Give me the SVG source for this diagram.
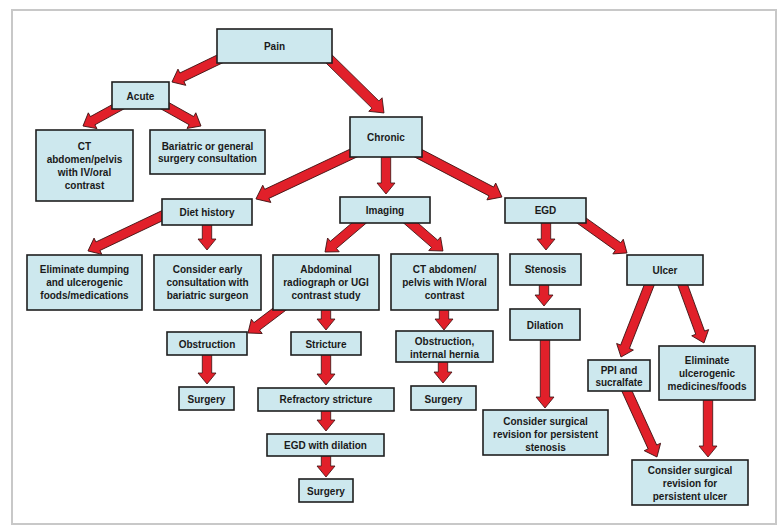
<svg xmlns="http://www.w3.org/2000/svg" width="783" height="531" viewBox="0 0 783 531">
<style>
.bx{fill:#cde8ee;stroke:#1f1f1f;stroke-width:1.6}
.ar{fill:#e1202a;stroke:#3a1010;stroke-width:0.8;stroke-linejoin:miter}
text{font-family:"Liberation Sans",Arial,sans-serif;font-weight:bold;font-size:10px;fill:#1a1a1a;text-anchor:middle}
</style>
<rect x="0" y="0" width="783" height="531" fill="#ffffff"/>
<rect x="12" y="10" width="764" height="514" fill="#ffffff" stroke="#c8c8c8" stroke-width="2"/>
<g id="connectors">
<polygon class="ar" transform="translate(228 55) rotate(154.26)" points="0,-4.7 51.2,-4.7 51.2,-9 62.2,0 51.2,9 51.2,4.7 0,4.7"/>
<polygon class="ar" transform="translate(325 55) rotate(44.5)" points="0,-5 70.7,-5 70.7,-9.5 82.7,0 70.7,9.5 70.7,5 0,5"/>
<polygon class="ar" transform="translate(125 103) rotate(151.3)" points="0,-4.7 36.9,-4.7 36.9,-9 47.9,0 36.9,9 36.9,4.7 0,4.7"/>
<polygon class="ar" transform="translate(160 103) rotate(29.3)" points="0,-4.7 36,-4.7 36,-9 47,0 36,9 36,4.7 0,4.7"/>
<polygon class="ar" transform="translate(360 150) rotate(154.8)" points="0,-5 103,-5 103,-9.5 115,0 103,9.5 103,5 0,5"/>
<polygon class="ar" transform="translate(386 155) rotate(90)" points="0,-4.7 28,-4.7 28,-9 39,0 28,9 28,4.7 0,4.7"/>
<polygon class="ar" transform="translate(412 150) rotate(27.6)" points="0,-5 89.5,-5 89.5,-9.5 101.5,0 89.5,9.5 89.5,5 0,5"/>
<polygon class="ar" transform="translate(170 212) rotate(154.6)" points="0,-4.7 79.8,-4.7 79.8,-9 90.8,0 79.8,9 79.8,4.7 0,4.7"/>
<polygon class="ar" transform="translate(207 223) rotate(90)" points="0,-4.7 16,-4.7 16,-9 27,0 16,9 16,4.7 0,4.7"/>
<polygon class="ar" transform="translate(365 218) rotate(139.6)" points="0,-4.7 41.5,-4.7 41.5,-9 52.5,0 41.5,9 41.5,4.7 0,4.7"/>
<polygon class="ar" transform="translate(405 218) rotate(41)" points="0,-4.7 39.3,-4.7 39.3,-9 50.3,0 39.3,9 39.3,4.7 0,4.7"/>
<polygon class="ar" transform="translate(546 221) rotate(90)" points="0,-4.7 18,-4.7 18,-9 29,0 18,9 18,4.7 0,4.7"/>
<polygon class="ar" transform="translate(578 218) rotate(35.5)" points="0,-4.7 49.2,-4.7 49.2,-9 60.2,0 49.2,9 49.2,4.7 0,4.7"/>
<polygon class="ar" transform="translate(544 283) rotate(90)" points="0,-4.7 12,-4.7 12,-9 23,0 12,9 12,4.7 0,4.7"/>
<polygon class="ar" transform="translate(285 305) rotate(142.9)" points="0,-4.7 35.4,-4.7 35.4,-9 46.4,0 35.4,9 35.4,4.7 0,4.7"/>
<polygon class="ar" transform="translate(326 308) rotate(90)" points="0,-4.7 11,-4.7 11,-9 22,0 11,9 11,4.7 0,4.7"/>
<polygon class="ar" transform="translate(444 308) rotate(90)" points="0,-4.7 11,-4.7 11,-9 22,0 11,9 11,4.7 0,4.7"/>
<polygon class="ar" transform="translate(650 283) rotate(111.4)" points="0,-4.7 68.5,-4.7 68.5,-9 79.5,0 68.5,9 68.5,4.7 0,4.7"/>
<polygon class="ar" transform="translate(682 283) rotate(69.9)" points="0,-4.7 52.9,-4.7 52.9,-9 63.9,0 52.9,9 52.9,4.7 0,4.7"/>
<polygon class="ar" transform="translate(207 353) rotate(90)" points="0,-4.7 20,-4.7 20,-9 31,0 20,9 20,4.7 0,4.7"/>
<polygon class="ar" transform="translate(326 353) rotate(90)" points="0,-4.7 21,-4.7 21,-9 32,0 21,9 21,4.7 0,4.7"/>
<polygon class="ar" transform="translate(443 360) rotate(90)" points="0,-4.7 12,-4.7 12,-9 23,0 12,9 12,4.7 0,4.7"/>
<polygon class="ar" transform="translate(326 409) rotate(90)" points="0,-4.7 11,-4.7 11,-9 22,0 11,9 11,4.7 0,4.7"/>
<polygon class="ar" transform="translate(326 454) rotate(90)" points="0,-4.7 12,-4.7 12,-9 23,0 12,9 12,4.7 0,4.7"/>
<polygon class="ar" transform="translate(545 338) rotate(90)" points="0,-4.7 59,-4.7 59,-9 70,0 59,9 59,4.7 0,4.7"/>
<polygon class="ar" transform="translate(626 389) rotate(65.5)" points="0,-4.7 63.7,-4.7 63.7,-9 74.7,0 63.7,9 63.7,4.7 0,4.7"/>
<polygon class="ar" transform="translate(708 398) rotate(90)" points="0,-4.7 48,-4.7 48,-9 59,0 48,9 48,4.7 0,4.7"/>
</g>
<g id="pain"><rect class="bx" x="217" y="29" width="115" height="34"/><text x="274.5" y="49.5">Pain</text></g>
<g id="acute"><rect class="bx" x="112" y="82" width="57" height="27"/><text x="140.5" y="99.5">Acute</text></g>
<g id="ct-acute"><rect class="bx" x="36" y="130" width="97" height="71"/><text x="84.5" y="149.5">CT</text><text x="84.5" y="162.5">abdomen/pelvis</text><text x="84.5" y="175.5">with IV/oral</text><text x="84.5" y="188.5">contrast</text></g>
<g id="bariatric"><rect class="bx" x="150" y="130" width="115" height="44"/><text x="207.5" y="149.5">Bariatric or general</text><text x="207.5" y="162">surgery consultation</text></g>
<g id="chronic"><rect class="bx" x="350" y="117" width="72" height="40"/><text x="386" y="141">Chronic</text></g>
<g id="diet"><rect class="bx" x="162" y="199" width="90" height="26"/><text x="207" y="215.7">Diet history</text></g>
<g id="imaging"><rect class="bx" x="340" y="197" width="90" height="26"/><text x="385" y="214">Imaging</text></g>
<g id="egd"><rect class="bx" x="505" y="198" width="81" height="25"/><text x="545.5" y="214">EGD</text></g>
<g id="eliminate-dumping"><rect class="bx" x="27" y="255" width="115" height="55"/><text x="84.5" y="273">Eliminate dumping</text><text x="84.5" y="286">and ulcerogenic</text><text x="84.5" y="299">foods/medications</text></g>
<g id="consider-early"><rect class="bx" x="154" y="255" width="107" height="55"/><text x="207.5" y="273">Consider early</text><text x="207.5" y="286">consultation with</text><text x="207.5" y="299">bariatric surgeon</text></g>
<g id="abdominal"><rect class="bx" x="273" y="255" width="106" height="55"/><text x="326" y="273">Abdominal</text><text x="326" y="286">radiograph or UGI</text><text x="326" y="299">contrast study</text></g>
<g id="ct-chronic"><rect class="bx" x="391" y="254" width="107" height="56"/><text x="444.5" y="273">CT abdomen/</text><text x="444.5" y="286">pelvis with IV/oral</text><text x="444.5" y="299">contrast</text></g>
<g id="stenosis"><rect class="bx" x="510" y="254" width="71" height="31"/><text x="545.5" y="273">Stenosis</text></g>
<g id="ulcer"><rect class="bx" x="627" y="255" width="76" height="30"/><text x="665" y="273.5">Ulcer</text></g>
<g id="dilation"><rect class="bx" x="510" y="309" width="70" height="31"/><text x="545" y="328.5">Dilation</text></g>
<g id="obstruction"><rect class="bx" x="167" y="332" width="80" height="23"/><text x="207" y="347.5">Obstruction</text></g>
<g id="stricture"><rect class="bx" x="291" y="332" width="70" height="23"/><text x="326" y="347.5">Stricture</text></g>
<g id="hernia"><rect class="bx" x="396" y="331" width="97" height="31"/><text x="444.5" y="345">Obstruction,</text><text x="444.5" y="357.5">internal hernia</text></g>
<g id="surgery-1"><rect class="bx" x="179" y="387" width="55" height="23"/><text x="206.5" y="402.5">Surgery</text></g>
<g id="refractory"><rect class="bx" x="258" y="388" width="136" height="23"/><text x="326" y="402.8">Refractory stricture</text></g>
<g id="surgery-3"><rect class="bx" x="411" y="386" width="65" height="24"/><text x="443.5" y="402.8">Surgery</text></g>
<g id="egd-dilation"><rect class="bx" x="267" y="434" width="117" height="22"/><text x="325.5" y="448.8">EGD with dilation</text></g>
<g id="surgery-2"><rect class="bx" x="299" y="479" width="54" height="23"/><text x="326" y="494.5">Surgery</text></g>
<g id="revision-stenosis"><rect class="bx" x="483" y="410" width="125" height="45"/><text x="545.5" y="424.5">Consider surgical</text><text x="545.5" y="437.5">revision for persistent</text><text x="545.5" y="450.8">stenosis</text></g>
<g id="ppi"><rect class="bx" x="588" y="360" width="62" height="31"/><text x="619" y="374">PPI and</text><text x="619" y="385.5">sucralfate</text></g>
<g id="eliminate-ulcerogenic"><rect class="bx" x="659" y="346" width="96" height="54"/><text x="707" y="364">Eliminate</text><text x="707" y="377">ulcerogenic</text><text x="707" y="390">medicines/foods</text></g>
<g id="revision-ulcer"><rect class="bx" x="632" y="460" width="116" height="45"/><text x="690" y="474">Consider surgical</text><text x="690" y="487">revision for</text><text x="690" y="500">persistent ulcer</text></g>
</svg>
